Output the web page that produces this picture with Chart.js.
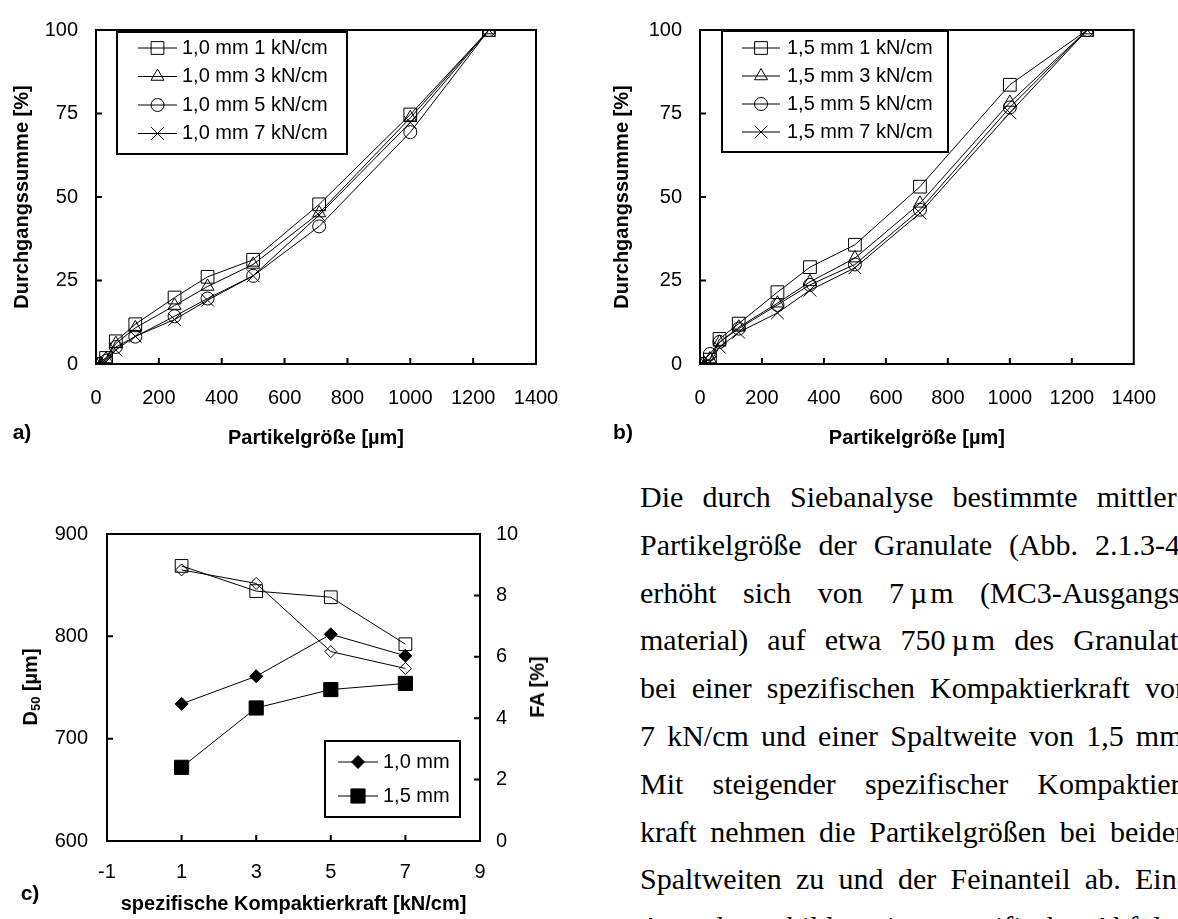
<!DOCTYPE html>
<html lang="de">
<head>
<meta charset="utf-8">
<title>Siebanalyse Granulate</title>
<script src="https://cdn.jsdelivr.net/npm/chart.js@4.4.1/dist/chart.umd.min.js"></script>
<style>
html, body { margin: 0; padding: 0; background: #fff; }
body { width: 1178px; height: 919px; position: relative; overflow: hidden; font-family: 'Liberation Sans', Arial, sans-serif; color: #000; }
canvas { position: absolute; }
#chartA { left: 0; top: 0; }
#chartB { left: 600px; top: 0; }
#chartC { left: 0; top: 480px; }
.panel { position: absolute; font-weight: bold; font-size: 21px; line-height: 1; transform: translate(-50%, -50%); }
.vtitle { position: absolute; font-weight: bold; font-size: 20px; line-height: 1; white-space: nowrap; transform: translate(-50%, -50%) rotate(-90deg); }
.vtitle sub { font-size: 13px; vertical-align: -3px; line-height: 0; }
.text { position: absolute; left: 640px; top: 473px; width: 550px; font-family: 'Liberation Serif', 'Times New Roman', serif; font-size: 30px; line-height: 47.8px; }
.text div { text-align: justify; text-align-last: justify; white-space: normal; }
.mu { margin-right: 3px; }
</style>
</head>
<body>
<canvas id="chartA" width="600" height="460"></canvas>
<canvas id="chartB" width="578" height="460"></canvas>
<canvas id="chartC" width="600" height="440"></canvas>

<div class="panel" style="left:22px; top:431px;">a)</div>
<div class="panel" style="left:623px; top:431px;">b)</div>
<div class="panel" style="left:30px; top:892px;">c)</div>
<div class="vtitle" style="left:30px; top:687px;">D<sub>50</sub> [µm]</div>
<div class="vtitle" style="left:537px; top:687px;">FA [%]</div>

<div class="text">
  <div>Die durch Siebanalyse bestimmte mittlere</div>
  <div>Partikelgröße der Granulate (Abb. 2.1.3-4)</div>
  <div>erhöht sich von 7&#8239;<span class="mu">µ</span>m (MC3-Ausgangs-</div>
  <div>material) auf etwa 750&#8239;<span class="mu">µ</span>m des Granulats</div>
  <div>bei einer spezifischen Kompaktierkraft von</div>
  <div>7 kN/cm und einer Spaltweite von 1,5 mm.</div>
  <div>Mit steigender spezifischer Kompaktier-</div>
  <div>kraft nehmen die Partikelgrößen bei beiden</div>
  <div>Spaltweiten zu und der Feinanteil ab. Eine</div>
  <div>Ausnahme bildet eine spezifische Abfolge</div>
</div>

<script>
// Siebdurchgang [%] je Maschenweite [µm]
const sieveSizes = [0, 32, 63, 125, 250, 355, 500, 710, 1000, 1250];

// Spaltweite 1,0 mm
const gap10Labels = ['1,0 mm 1 kN/cm', '1,0 mm 3 kN/cm', '1,0 mm 5 kN/cm', '1,0 mm 7 kN/cm'];
const gap10_1kN = [0, 1.8, 6.8, 11.9, 19.9, 26.1, 31.2, 47.8, 74.7, 100];
const gap10_3kN = [0, 1.5, 6.1, 10.8, 17.5, 23.2, 29.8, 45.2, 73.7, 100];
const gap10_5kN = [0, 1.0, 5.1, 8.2, 14.3, 19.6, 26.4, 41.2, 69.4, 100];
const gap10_7kN = [0, 0.6, 4.2, 8.3, 13.3, 19.1, 26.4, 44.6, 72.3, 100];

// Spaltweite 1,5 mm
const gap15Labels = ['1,5 mm 1 kN/cm', '1,5 mm 3 kN/cm', '1,5 mm 5 kN/cm', '1,5 mm 7 kN/cm'];
const gap15_1kN = [0, 1.3, 7.5, 12.1, 21.5, 29.0, 35.7, 53.1, 83.6, 100];
const gap15_3kN = [0, 1.5, 6.5, 11.0, 18.2, 24.6, 31.7, 48.1, 78.3, 100];
const gap15_5kN = [0, 3.0, 6.6, 10.6, 17.7, 23.7, 29.8, 46.2, 76.8, 100];
const gap15_7kN = [0, 0.5, 5.0, 9.5, 15.3, 22.1, 28.8, 45.2, 75.2, 100];

// D50 und Feinanteil ueber der spezifischen Kompaktierkraft
const forces = [1, 3, 5, 7];
const d50Labels = ['1,0 mm', '1,5 mm'];
const d50Gap10 = [734, 761, 802, 781];
const d50Gap15 = [672, 730, 748, 754];
const faGap10 = [8.83, 8.39, 6.17, 5.62];
const faGap15 = [8.96, 8.14, 7.94, 6.41];

// Achsenteilungen
const sizeTicks = [0, 200, 400, 600, 800, 1000, 1200, 1400];
const passTicks = [0, 25, 50, 75, 100];
const forceTicks = [-1, 1, 3, 5, 7, 9];
const d50Ticks = [600, 700, 800, 900];
const faTicks = [0, 2, 4, 6, 8, 10];

Chart.defaults.font.family = "'Liberation Sans', Arial, sans-serif";
Chart.defaults.font.size = 20;
Chart.defaults.color = '#000';

const FONT = "20px 'Liberation Sans', Arial, sans-serif";
const CLEAR = 'rgba(0,0,0,0)';

// Rahmen um die Zeichenflaeche und nach innen zeigende Teilstriche
const frame = {
  id: 'frame',
  beforeDatasetsDraw(chart) {
    const { ctx, chartArea: a } = chart;
    ctx.save();
    ctx.strokeStyle = '#000';
    ctx.lineWidth = 2;
    ctx.strokeRect(a.left, a.top, a.right - a.left, a.bottom - a.top);
    ctx.beginPath();
    Object.values(chart.scales).forEach(s => {
      s.ticks.forEach(t => {
        const p = s.getPixelForValue(t.value);
        if (s.isHorizontal()) {
          if (p <= a.left + 1 || p >= a.right - 1) return;
          ctx.moveTo(p, a.bottom);
          ctx.lineTo(p, a.bottom - 6);
        } else {
          if (p <= a.top + 1 || p >= a.bottom - 1) return;
          const right = s.position === 'right';
          const edge = right ? a.right : a.left;
          ctx.moveTo(edge, p);
          ctx.lineTo(edge + (right ? -6 : 6), p);
        }
      });
    });
    ctx.stroke();
    ctx.restore();
  }
};

// Legende im Kasten: Linie mit Symbol, daneben der Text
const boxLegend = {
  id: 'boxLegend',
  afterDatasetsDraw(chart, args, o) {
    const ctx = chart.ctx;
    ctx.save();
    ctx.fillStyle = '#fff';
    ctx.fillRect(o.left, o.top, o.width, o.height);
    ctx.strokeStyle = '#000';
    ctx.lineWidth = 2;
    ctx.strokeRect(o.left, o.top, o.width, o.height);
    let y = o.firstRow;
    chart.data.datasets.forEach(ds => {
      if (ds.inLegend === false) return;
      ctx.strokeStyle = '#000';
      ctx.lineWidth = 1;
      ctx.beginPath();
      ctx.moveTo(o.lineFrom, y);
      ctx.lineTo(o.lineTo, y);
      ctx.stroke();
      ctx.fillStyle = ds.pointBackgroundColor;
      Chart.helpers.drawPoint(ctx, {
        pointStyle: ds.pointStyle, radius: ds.pointRadius, rotation: 0, borderWidth: 1
      }, (o.lineFrom + o.lineTo) / 2, y);
      ctx.fillStyle = '#000';
      ctx.font = FONT;
      ctx.textBaseline = 'middle';
      ctx.textAlign = 'left';
      ctx.fillText(ds.label, o.textX, y);
      y += o.rowStep;
    });
    ctx.restore();
  }
};

function points(xs, ys) {
  return xs.map((x, i) => ({ x: x, y: ys[i] }));
}

function series(label, xs, ys, style, radius, fill, axis) {
  return {
    label: label,
    data: points(xs, ys),
    yAxisID: axis || 'y',
    borderColor: '#000',
    borderWidth: 1,
    pointStyle: style,
    pointRadius: radius,
    pointBorderWidth: 1,
    pointBorderColor: '#000',
    pointBackgroundColor: fill ? '#000' : CLEAR,
    backgroundColor: CLEAR,
    fill: false,
    tension: 0
  };
}

function valueAxis(opts) {
  return {
    type: 'linear',
    position: opts.position,
    min: opts.min,
    max: opts.max,
    afterBuildTicks: s => { s.ticks = opts.ticks.map(v => ({ value: v })); },
    afterFit: s => {
      if (s.isHorizontal()) s.height = opts.size; else s.width = opts.size;
    },
    grid: { display: false, drawTicks: false, tickLength: 0 },
    border: { display: false },
    ticks: {
      autoSkip: false,
      maxRotation: 0,
      padding: opts.pad,
      font: { size: 20 },
      callback: v => String(v)
    },
    title: opts.title ? {
      display: true,
      text: opts.title,
      font: { size: 20, weight: 'bold' },
      padding: opts.titlePad
    } : { display: false }
  };
}

function sieveChart(id, labels, rows, plotLeft, padRight, legend) {
  const styles = [['rect', 9], ['triangle', 7.5], ['circle', 6.5], ['crossRot', 9]];
  return new Chart(document.getElementById(id), {
    type: 'line',
    data: {
      datasets: rows.map((r, i) => series(labels[i], sieveSizes, r, styles[i][0], styles[i][1], false))
    },
    options: {
      responsive: false,
      animation: false,
      devicePixelRatio: 1,
      layout: { padding: { top: 19, right: padRight, bottom: 0, left: 0 } },
      scales: {
        x: valueAxis({ position: 'bottom', min: 0, max: 1400, ticks: sizeTicks, size: 96, pad: 22,
          title: 'Partikelgröße [µm]', titlePad: { top: 0, bottom: 10 } }),
        y: valueAxis({ position: 'left', min: 0, max: 100, ticks: passTicks, size: plotLeft, pad: 18,
          title: 'Durchgangssumme [%]', titlePad: { top: 10, bottom: 0 } })
      },
      plugins: {
        legend: { display: false },
        tooltip: { enabled: false },
        boxLegend: legend
      }
    },
    plugins: [frame, boxLegend]
  });
}

sieveChart('chartA', gap10Labels, [gap10_1kN, gap10_3kN, gap10_5kN, gap10_7kN], 96, 64,
  { left: 117, top: 32, width: 230, height: 122, firstRow: 48, rowStep: 28.5, lineFrom: 138, lineTo: 177, textX: 182 });

sieveChart('chartB', gap15Labels, [gap15_1kN, gap15_3kN, gap15_5kN, gap15_7kN], 100, 32,
  { left: 122, top: 31, width: 226, height: 121, firstRow: 48, rowStep: 28, lineFrom: 142, lineTo: 180, textX: 187 });

new Chart(document.getElementById('chartC'), {
  type: 'line',
  data: {
    datasets: [
      series(d50Labels[0], forces, d50Gap10, 'rectRot', 6.5, true, 'y'),
      series(d50Labels[1], forces, d50Gap15, 'rect', 10, true, 'y'),
      Object.assign(series('FA 1,0 mm', forces, faGap10, 'rectRot', 6, false, 'y1'), { inLegend: false }),
      Object.assign(series('FA 1,5 mm', forces, faGap15, 'rect', 9, false, 'y1'), { inLegend: false })
    ]
  },
  options: {
    responsive: false,
    animation: false,
    devicePixelRatio: 1,
    layout: { padding: { top: 54, right: 0, bottom: 0, left: 0 } },
    scales: {
      x: valueAxis({ position: 'bottom', min: -1, max: 9, ticks: forceTicks, size: 79, pad: 19,
        title: 'spezifische Kompaktierkraft [kN/cm]', titlePad: { top: 0, bottom: 4 } }),
      y: valueAxis({ position: 'left', min: 600, max: 900, ticks: d50Ticks, size: 107, pad: 19 }),
      y1: valueAxis({ position: 'right', min: 0, max: 10, ticks: faTicks, size: 120, pad: 16 })
    },
    plugins: {
      legend: { display: false },
      tooltip: { enabled: false },
      boxLegend: { left: 325, top: 261, width: 135, height: 76, firstRow: 282, rowStep: 34, lineFrom: 338, lineTo: 378, textX: 383 }
    }
  },
  plugins: [frame, boxLegend]
});
</script>
</body>
</html>
